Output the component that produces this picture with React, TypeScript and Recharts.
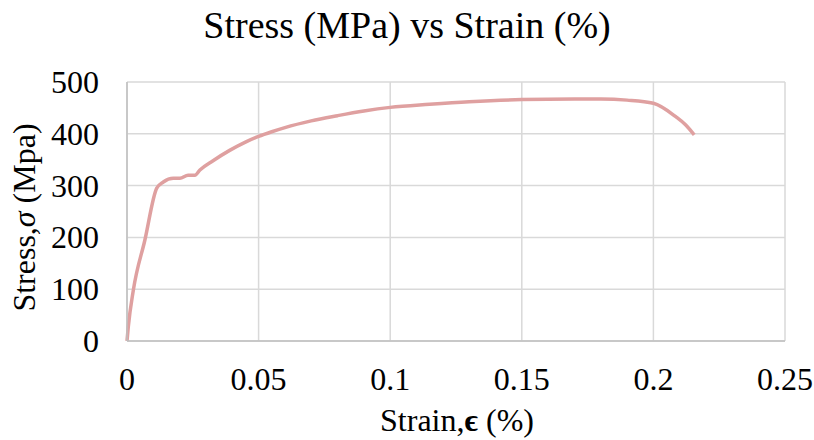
import { LineChart, Line, XAxis, YAxis, CartesianGrid, Label } from "recharts";

const strain = [
  0, 0.0005, 0.0024, 0.0068, 0.0113, 0.0138, 0.0176, 0.0201, 0.0232, 0.0258, 0.0277,
  0.0327, 0.039, 0.045, 0.05, 0.055, 0.06, 0.07, 0.08, 0.09, 0.1, 0.115, 0.13, 0.15, 0.17,
  0.18, 0.19, 0.2, 0.2085, 0.2123, 0.2155,
];
const stress = [
  0, 28, 98, 195, 295, 307, 314, 314, 320, 320, 330, 348, 368, 384, 395, 404, 412, 425,
  435, 444, 451, 457, 462, 466, 467, 467, 465, 459, 433, 417, 398,
];
const xTicks = [0, 0.05, 0.1, 0.15, 0.2, 0.25];
const yTicks = [0, 100, 200, 300, 400, 500];

const data = strain.map((s, i) => ({ strain: s, stress: stress[i] }));

const font = "'Liberation Serif', 'Times New Roman', serif";

// custom ticks so the serif font and size stick
const XTick = (props: any) => {
  const { x, payload } = props;
  return (
    <text x={x} y={390} textAnchor="middle" fontFamily={font} fontSize={32} fill="#000">
      {String(payload.value)}
    </text>
  );
};

const YTick = (props: any) => {
  const { y, payload } = props;
  return (
    <text x={99} y={y + 11} textAnchor="end" fontFamily={font} fontSize={32} fill="#000">
      {String(payload.value)}
    </text>
  );
};

export default function App() {
  return (
    <div style={{ position: "fixed", left: 0, top: 0, width: 814, height: 440, background: "#fff", fontFamily: font }}>
      <div
        style={{
          position: "absolute",
          top: 6,
          left: 0,
          width: 814,
          textAlign: "center",
          fontFamily: font,
          fontSize: 38,
          lineHeight: 1,
          color: "#000",
        }}
      >
        Stress (MPa) vs Strain (%)
      </div>
      <LineChart
        width={814}
        height={440}
        data={data}
        margin={{ top: 82, right: 29, bottom: 0, left: 0 }}
      >
        <CartesianGrid stroke="#d9d9d9" strokeWidth={1.5} />
        <XAxis
          dataKey="strain"
          type="number"
          domain={[0, 0.25]}
          ticks={xTicks}
          axisLine={{ stroke: "#bfbfbf", strokeWidth: 1.5 }}
          tickLine={false}
          tick={<XTick />}
          height={99}
          interval={0}
        >
          <Label
            content={(props: any) => {
              const vb = props.viewBox || {};
              return (
                <text
                  x={vb.x + vb.width / 2 + 1}
                  y={431}
                  textAnchor="middle"
                  fontFamily={font}
                  fontSize={32}
                  fill="#000"
                >
                  Strain,
                  <tspan fontWeight="bold">ϵ</tspan> (%)
                </text>
              );
            }}
          />
        </XAxis>
        <YAxis
          dataKey="stress"
          type="number"
          domain={[0, 500]}
          ticks={yTicks}
          axisLine={{ stroke: "#bfbfbf", strokeWidth: 1.5 }}
          tickLine={false}
          tick={<YTick />}
          width={127}
          interval={0}
        >
          <Label
            content={(props: any) => {
              const vb = props.viewBox || {};
              const cy = vb.y + vb.height / 2 + 6;
              return (
                <text
                  x={35}
                  y={cy}
                  transform={`rotate(-90, 35, ${cy})`}
                  textAnchor="middle"
                  fontFamily={font}
                  fontSize={32}
                  fill="#000"
                >
                  Stress,
                  <tspan fontStyle="italic">σ</tspan> (Mpa)
                </text>
              );
            }}
          />
        </YAxis>
        <Line
          type="monotone"
          dataKey="stress"
          stroke="#dfa0a0"
          strokeWidth={3.5}
          dot={false}
          isAnimationActive={false}
        />
      </LineChart>
    </div>
  );
}
